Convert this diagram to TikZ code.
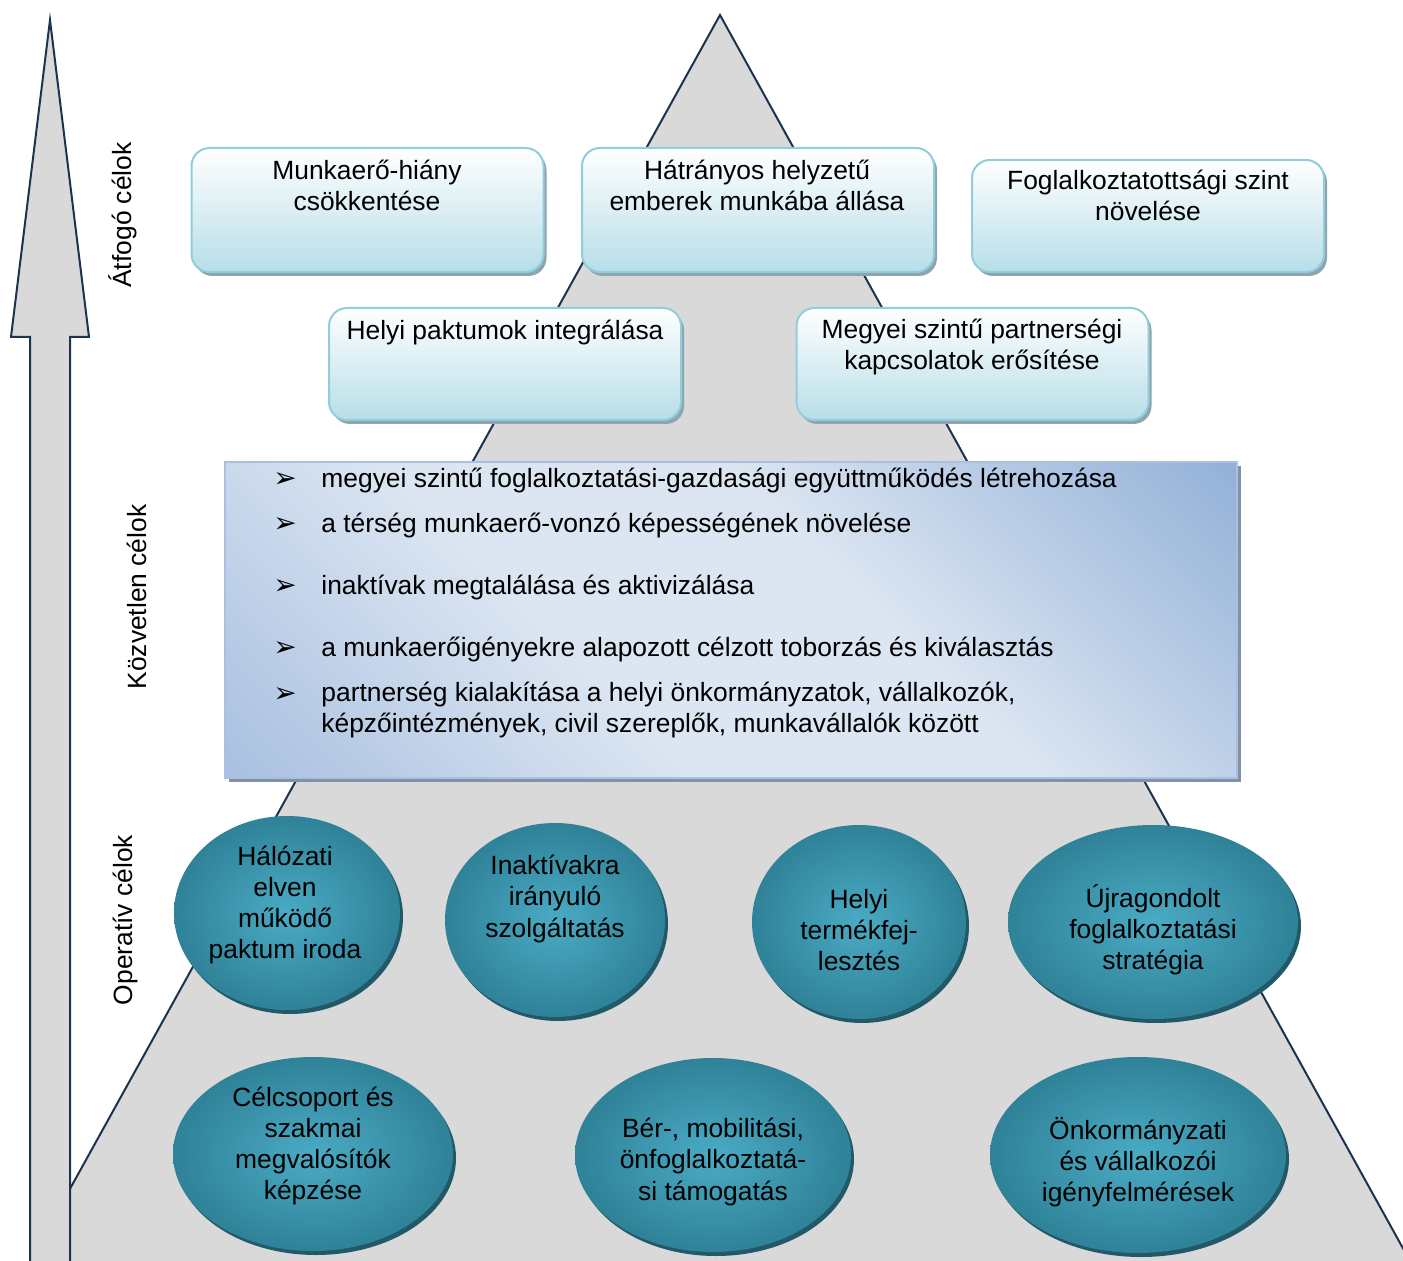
\documentclass[tikz,border=0pt]{standalone}
\usepackage{fontspec}
\setmainfont{Liberation Sans}
\newfontfamily\dingfont{DejaVu Sans}
\usetikzlibrary{shapes.geometric,shadows}

\definecolor{pyrgrey}{HTML}{D9D9D9}
\definecolor{pyrline}{HTML}{1C3350}
\definecolor{boxline}{HTML}{92CDDC}
\definecolor{boxfill}{HTML}{B7DEE8}
\definecolor{boxshadow}{HTML}{8EA4AE}
\definecolor{midlight}{HTML}{DCE6F2}
\definecolor{midmid}{HTML}{A9C0E0}
\definecolor{middark}{HTML}{93B1D8}
\definecolor{midshadow}{HTML}{8191A8}
\definecolor{tealin}{HTML}{4AABC4}
\definecolor{tealout}{HTML}{2F8298}
\definecolor{tealshadow}{HTML}{215968}

\pgfdeclarehorizontalshading{midglow}{100bp}{color(0bp)=(midmid); color(15bp)=(midmid);
  color(40bp)=(midlight); color(58bp)=(midlight); color(85bp)=(middark); color(100bp)=(middark)}

\tikzset{
  goalbox/.style={rectangle, rounded corners=9pt, draw=boxline, line width=1pt,
    top color=white, bottom color=boxfill, minimum width=176pt,
    drop shadow={shadow xshift=1.5pt, shadow yshift=-2pt, fill=boxshadow, opacity=1}},
  midbox/.style={rectangle, draw=midmid, line width=0.6pt,
    shading=midglow, shading angle=45,
    drop shadow={shadow xshift=2pt, shadow yshift=-2pt, fill=midshadow, opacity=1}},
  opoval/.style={ellipse, inner sep=0pt, shading=radial, inner color=tealin, outer color=tealout,
    minimum height=97pt,
    drop shadow={shadow xshift=1.5pt, shadow yshift=-2pt, fill=tealshadow, opacity=1}},
  bulletmark/.style={anchor=base, inner sep=0pt, font=\dingfont\fontsize{14}{16}\selectfont},
  itemtext/.style={anchor=base west, inner sep=0pt},
  goaltext/.style={align=center, anchor=base}
}

\begin{document}
\begin{tikzpicture}[x=0.5pt, y=-0.5pt, font=\fontsize{13.2}{15.6}\selectfont]
	\clip (0,0) rectangle (1403,1261);
	
	% THE PYRAMID
	\fill[pyrgrey] (720,15) -- (30,1261) -- (1410,1261) -- cycle;
	\draw[pyrline, line width=1pt] (30,1261) -- (720,15) -- (1410,1261);
	%
	% THE ARROW
	\path[fill=pyrgrey, draw=pyrline, line width=1pt]
	(50,20) -- (89,337) -- (70,337) -- (70,1270) -- (30,1270) -- (30,337) -- (11,337) -- cycle;
	%
	% LEVEL LABELS
	\node[rotate=90] (atfogo) at (123,215) {Átfogó célok};
	\node[rotate=90] (kozvetlen) at (137,597) {Közvetlen célok};
	\node[rotate=90] (operativ) at (126,920) {Operatív célok};
	%
	% THE BOXES
	% TOP ROW
	\node[goalbox, minimum height=62pt] (atf1) at (367.5,210) {};
	\node[goalbox, minimum height=62pt] (atf2) at (758,210) {};
	\node[goalbox, minimum height=56pt] (atf3) at (1148,216) {};
	% SECOND ROW
	\node[goalbox, minimum height=56pt] (atf4) at (505,364) {};
	\node[goalbox, minimum height=56pt] (atf5) at (972.5,364) {};
	% TEXTS (base = last line)
	\node[goaltext] (atft1) at (367,211) {Munkaerő-hiány\\csökkentése};
	\node[goaltext] (atft2) at (757,211) {Hátrányos helyzetű\\emberek munkába állása};
	\node[goaltext] (atft3) at (1148,221) {Foglalkoztatottsági szint\\növelése};
	\node[goaltext] (atft4) at (505,340) {Helyi paktumok integrálása};
	\node[goaltext] (atft5) at (972,370) {Megyei szintű partnerségi\\kapcsolatok erősítése};
	%
	% THE MIDDLE BOX
	\node[midbox, minimum width=506pt, minimum height=158pt] (kozv) at (731,620) {};
	% BULLETS
	\node[bulletmark] (bl1) at (285,488) {➢};
	\node[bulletmark] (bl2) at (285,533) {➢};
	\node[bulletmark] (bl3) at (285,595) {➢};
	\node[bulletmark] (bl4) at (285,657) {➢};
	\node[bulletmark] (bl5) at (285,703) {➢};
	% ITEMS
	\node[itemtext] (kt1) at (321,488) {megyei szintű foglalkoztatási-gazdasági együttműködés létrehozása};
	\node[itemtext] (kt2) at (321,533) {a térség munkaerő-vonzó képességének növelése};
	\node[itemtext] (kt3) at (321,595) {inaktívak megtalálása és aktivizálása};
	\node[itemtext] (kt4) at (321,657) {a munkaerőigényekre alapozott célzott toborzás és kiválasztás};
	\node[itemtext, align=left] (kt5) at (321,733) {partnerség kialakítása a helyi önkormányzatok, vállalkozók,\\képzőintézmények, civil szereplők, munkavállalók között};
	%
	% THE OVALS
	% UPPER ROW
	\node[opoval, minimum width=113pt] (op1) at (287,913) {};
	\node[opoval, minimum width=110pt] (op2) at (555,920) {};
	\node[opoval, minimum width=107pt] (op3) at (859,922) {};
	\node[opoval, minimum width=145pt] (op4) at (1153,922) {};
	% LOWER ROW
	\node[opoval, minimum width=140pt] (op5) at (313,1154) {};
	\node[opoval, minimum width=138pt] (op6) at (713,1155) {};
	\node[opoval, minimum width=148pt, minimum height=98pt] (op7) at (1138,1155) {};
	% TEXTS
	\node[align=center] (opt1) at (285,905) {Hálózati\\elven\\működő\\paktum iroda};
	\node[align=center] (opt2) at (555,899) {Inaktívakra\\irányuló\\szolgáltatás};
	\node[align=center] (opt3) at (859,930) {Helyi\\termékfej-\\lesztés};
	\node[align=center] (opt4) at (1153,930) {Újragondolt\\foglalkoztatási\\stratégia};
	\node[align=center] (opt5) at (313,1146) {Célcsoport és\\szakmai\\megvalósítók\\képzése};
	\node[align=center] (opt6) at (713,1162) {Bér-, mobilitási,\\önfoglalkoztatá-\\si támogatás};
	\node[align=center] (opt7) at (1138,1162) {Önkormányzati\\és vállalkozói\\igényfelmérések};
\end{tikzpicture}
\end{document}
